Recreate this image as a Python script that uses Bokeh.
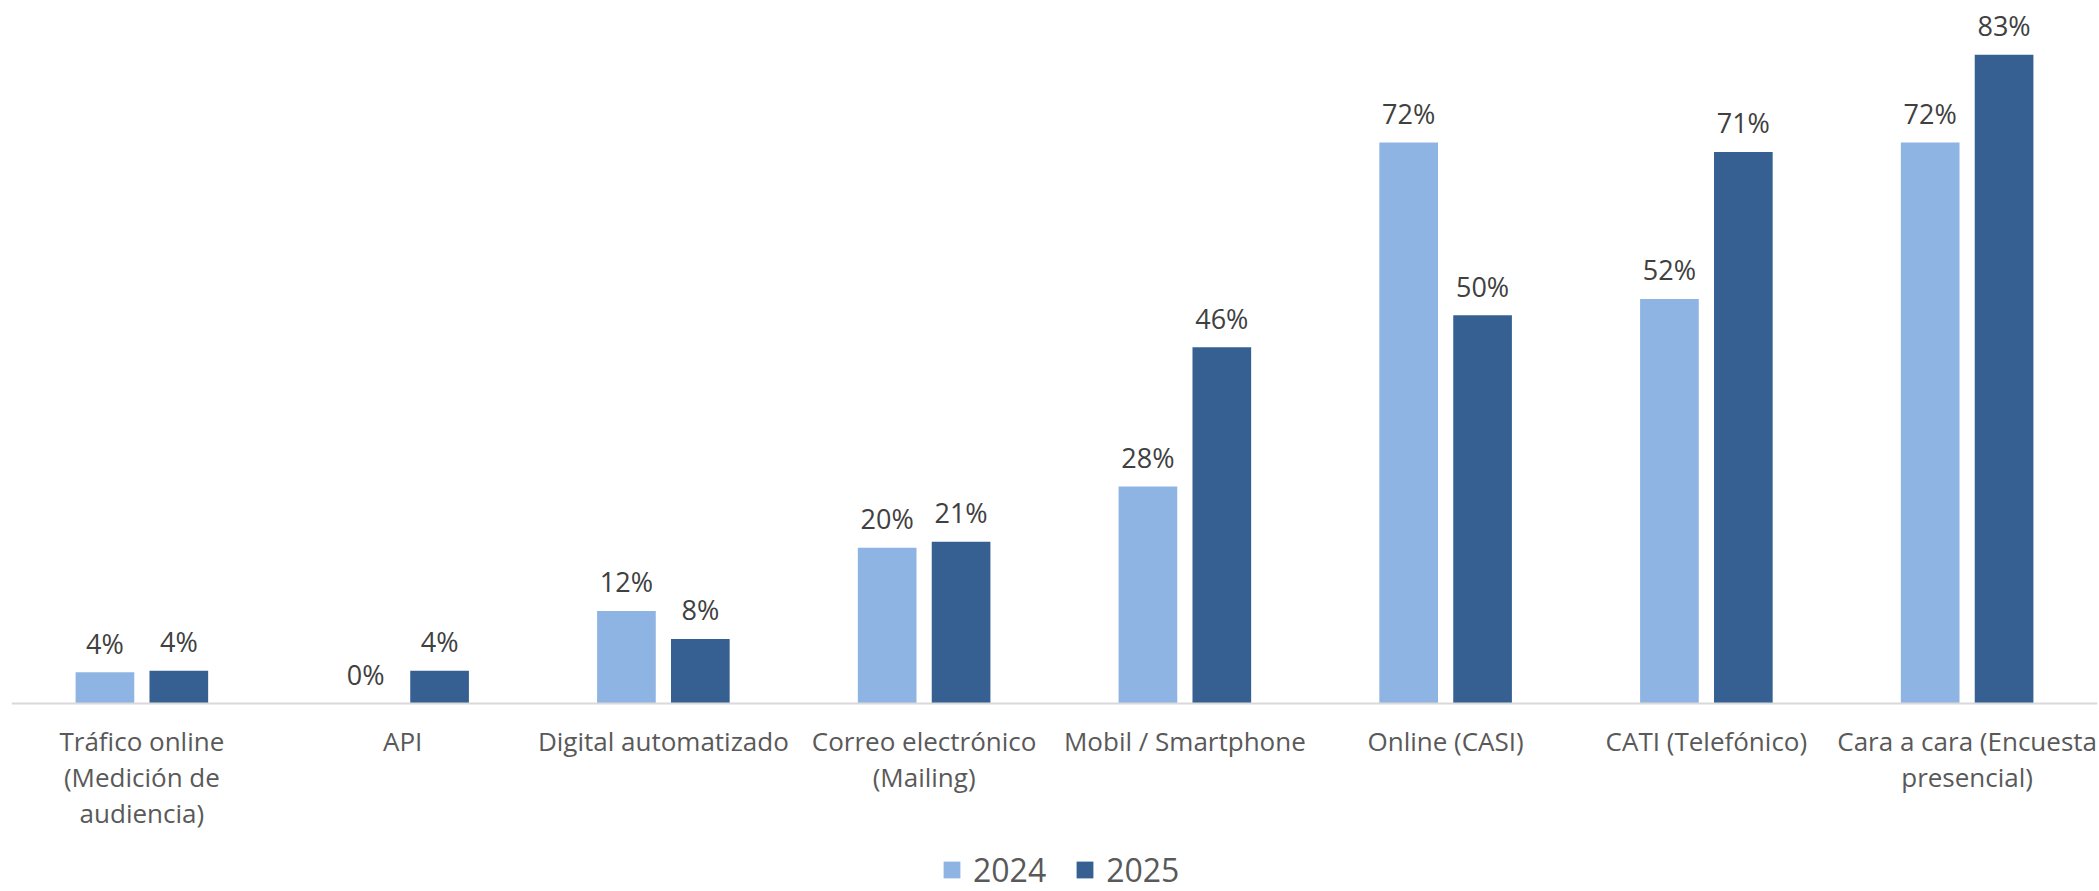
from bokeh.plotting import figure
from bokeh.models import FactorRange, Range1d, ColumnDataSource, Legend, LegendItem
from bokeh.transform import dodge
from bokeh.embed import file_html
from bokeh.resources import INLINE
from bokeh.core.properties import value

categories = [
    "Tráfico online\n(Medición de\naudiencia)",
    "API",
    "Digital automatizado",
    "Correo electrónico\n(Mailing)",
    "Mobil / Smartphone",
    "Online (CASI)",
    "CATI (Telefónico)",
    "Cara a cara (Encuesta\npresencial)",
]
series_names = ["2024", "2025"]
values_2024 = [4.0, 0.0, 11.9, 20.0, 27.9, 72.1, 52.0, 72.1]
values_2025 = [4.2, 4.2, 8.3, 20.8, 45.8, 49.9, 70.9, 83.4]

C24 = "#8EB4E3"
C25 = "#366092"

src = ColumnDataSource(dict(
    cat=categories,
    v24=values_2024,
    v25=values_2025,
    l24=[f"{round(v)}%" for v in values_2024],
    l25=[f"{round(v)}%" for v in values_2025],
))

W, H = 2099, 891
p = figure(
    width=W, height=H,
    x_range=FactorRange(*categories),
    y_range=Range1d(-24.17, 90.36),
    output_backend="svg", toolbar_location=None,
    y_axis_location=None,
    min_border_left=11, min_border_right=2, min_border_top=0, min_border_bottom=0,
)
p.outline_line_color = None
p.xgrid.visible = False
p.ygrid.visible = False
p.background_fill_color = "white"
p.border_fill_color = "white"

OFF = 0.1417
BW = 0.225
r1 = p.vbar(x=dodge("cat", -OFF, range=p.x_range), top="v24", width=BW, source=src,
            fill_color=C24, line_color=None)
r2 = p.vbar(x=dodge("cat", OFF, range=p.x_range), top="v25", width=BW, source=src,
            fill_color=C25, line_color=None)

for off, col, lab in [(-OFF, "v24", "l24"), (OFF, "v25", "l25")]:
    p.text(x=dodge("cat", off, range=p.x_range), y=col, text=lab, source=src,
           text_align="center", text_baseline="alphabetic", y_offset=-29,
           text_font=value("Open Sans"), text_font_size="27px", text_color="#404040")

ax = p.xaxis[0]
ax.fixed_location = 0
ax.axis_line_color = "#d9d9d9"
ax.axis_line_width = 2
ax.major_tick_line_color = None
ax.minor_tick_line_color = None
ax.major_tick_out = 0
ax.major_tick_in = 0
ax.major_label_standoff = 20
ax.major_label_text_font = "Open Sans"
ax.major_label_text_font_size = "26px"
ax.major_label_text_color = "#595959"
ax.major_label_text_line_height = 1.0

legend = Legend(
    items=[LegendItem(label=series_names[0], renderers=[r1]),
           LegendItem(label=series_names[1], renderers=[r2])],
    location=(930, 0), orientation="horizontal",
    glyph_width=21, glyph_height=21, label_standoff=11, spacing=28,
    padding=0, margin=0, border_line_color=None, background_fill_alpha=0,
    label_text_font="Open Sans", label_text_font_size="32px",
    label_text_color="#595959", label_height=21,
)
p.add_layout(legend, "center")

open("out.html", "w").write(file_html(p, INLINE))
